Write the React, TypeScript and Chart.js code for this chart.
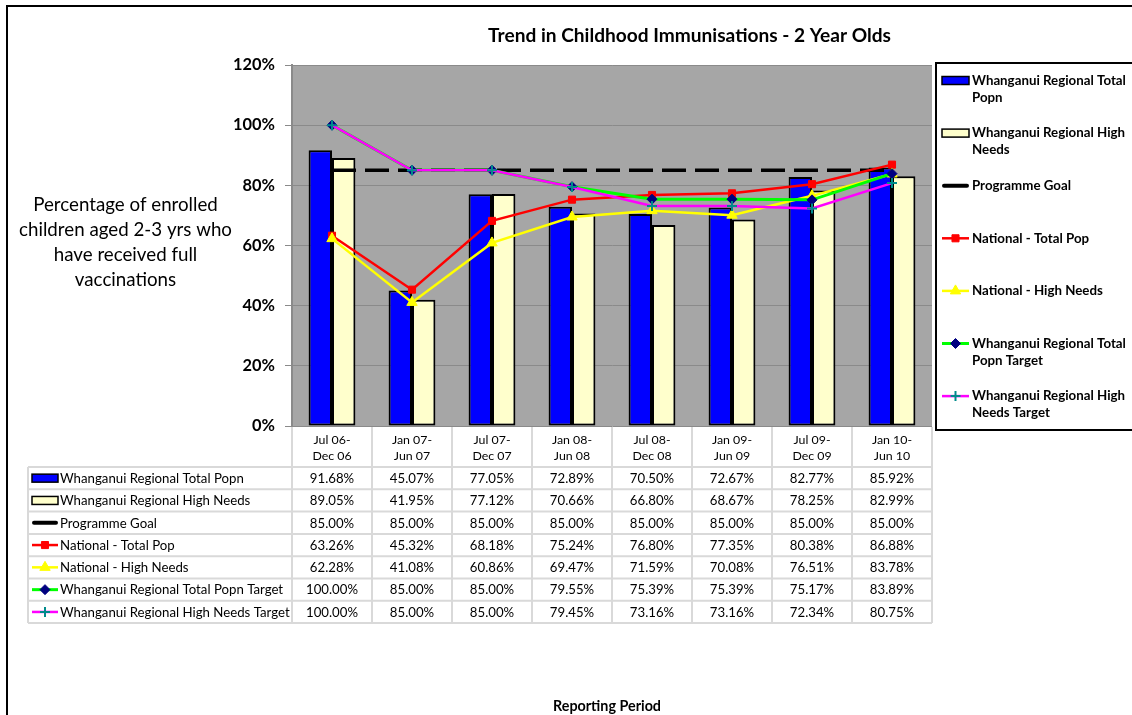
import React, { useEffect, useRef } from "react";
import { Chart, registerables } from "chart.js";
import { drawPoint } from "chart.js/helpers";

Chart.register(...registerables);

// ---------- data ----------
const categories: string[][] = [
  ["Jul 06-", "Dec 06"],
  ["Jan 07-", "Jun 07"],
  ["Jul 07-", "Dec 07"],
  ["Jan 08-", "Jun 08"],
  ["Jul 08-", "Dec 08"],
  ["Jan 09-", "Jun 09"],
  ["Jul 09-", "Dec 09"],
  ["Jan 10-", "Jun 10"],
];
const regionalTotalPopn = [91.68, 45.07, 77.05, 72.89, 70.5, 72.67, 82.77, 85.92];
const regionalHighNeeds = [89.05, 41.95, 77.12, 70.66, 66.8, 68.67, 78.25, 82.99];
const programmeGoal = [85, 85, 85, 85, 85, 85, 85, 85];
const nationalTotalPop = [63.26, 45.32, 68.18, 75.24, 76.8, 77.35, 80.38, 86.88];
const nationalHighNeeds = [62.28, 41.08, 60.86, 69.47, 71.59, 70.08, 76.51, 83.78];
const regionalTotalTarget = [100.0, 85.0, 85.0, 79.55, 75.39, 75.39, 75.17, 83.89];
const regionalHighTarget = [100.0, 85.0, 85.0, 79.45, 73.16, 73.16, 72.34, 80.75];

const seriesNames = [
  "Whanganui Regional Total Popn",
  "Whanganui Regional High Needs",
  "Programme Goal",
  "National - Total Pop",
  "National - High Needs",
  "Whanganui Regional Total Popn Target",
  "Whanganui Regional High Needs Target",
];
const yMin = 0;
const yMax = 120;
const yStep = 20;
const chartTitle = "Trend in Childhood Immunisations - 2 Year Olds";
const yTitleLines = ["Percentage of enrolled", "children aged 2-3 yrs who", "have received full", "vaccinations"];
const xTitle = "Reporting Period";

// ---------- fonts ----------
const FAMILY = "Lato, 'Open Sans', sans-serif";
function fit(text: string, weight: string, target: number): number {
  const c = document.createElement("canvas").getContext("2d")!;
  c.font = `${weight} 100px ${FAMILY}`;
  return (100 * target) / c.measureText(text).width;
}

function wrap(ctx: CanvasRenderingContext2D, text: string, maxW: number): string[] {
  const words = text.split(" ");
  const lines: string[] = [];
  let cur = "";
  for (const w of words) {
    const t = cur ? cur + " " + w : w;
    if (ctx.measureText(t).width > maxW && cur) {
      lines.push(cur);
      cur = w;
    } else cur = t;
  }
  if (cur) lines.push(cur);
  return lines;
}

function drawSwatch(ctx: CanvasRenderingContext2D, ds: any, x0: number, x1: number, y: number, barH: number) {
  ctx.save();
  if (ds.type !== "line") {
    ctx.fillStyle = ds.backgroundColor;
    ctx.fillRect(x0, y - barH / 2, x1 - x0, barH);
    ctx.strokeStyle = "#000";
    ctx.lineWidth = 1.5;
    ctx.strokeRect(x0, y - barH / 2, x1 - x0, barH);
  } else {
    ctx.strokeStyle = ds.borderColor;
    ctx.lineWidth = ds.pointRadius > 0 ? ds.borderWidth : 4;
    ctx.lineCap = ds.pointRadius > 0 ? "butt" : "round";
    ctx.beginPath();
    ctx.moveTo(x0 + (ds.pointRadius > 0 ? 0 : 2), y);
    ctx.lineTo(x1 - (ds.pointRadius > 0 ? 0 : 2), y);
    ctx.stroke();
    if (ds.pointRadius > 0) {
      ctx.fillStyle = ds.pointBackgroundColor;
      ctx.strokeStyle = ds.pointBorderColor;
      ctx.lineWidth = ds.pointBorderWidth;
      drawPoint(ctx, { pointStyle: ds.pointStyle, radius: ds.pointRadius, borderWidth: ds.pointBorderWidth, rotation: 0 } as any, (x0 + x1) / 2, y);
    }
  }
  ctx.restore();
}

export default function App() {
  const ref = useRef<HTMLCanvasElement>(null);

  useEffect(() => {
    const canvas = ref.current!;
    const sz = {
      title: fit(chartTitle, "bold", 403),
      tick: fit("120%", "bold", 42),
      yTitle: fit(yTitleLines[1], "normal", 213),
      legend: fit("Whanganui Regional Total", "bold", 154),
      rowLabel: fit(seriesNames[6], "normal", 230),
      value: fit("100.00%", "normal", 52),
      header: fit("Jul 06-", "normal", 37),
      xTitle: fit(xTitle, "bold", 108),
    };

    const bgPlugin = {
      id: "bg",
      beforeDraw(chart: any) {
        const { ctx, chartArea } = chart;
        ctx.save();
        ctx.fillStyle = "#fff";
        ctx.fillRect(0, 0, chart.width, chart.height);
        ctx.fillStyle = "#A6A6A6";
        ctx.fillRect(chartArea.left, chartArea.top, chartArea.right - chartArea.left, chartArea.bottom - chartArea.top);
        ctx.restore();
      },
      afterDraw(chart: any) {
        const { ctx, chartArea } = chart;
        const xs = chart.scales.x;
        const dsets = chart.data.datasets;
        ctx.save();
        // outer frame
        ctx.strokeStyle = "#000";
        ctx.lineWidth = 2;
        ctx.strokeRect(7, 6, 1140, 720);

        // title
        ctx.fillStyle = "#000";
        ctx.textAlign = "center";
        ctx.textBaseline = "middle";
        ctx.font = `bold ${sz.title}px ${FAMILY}`;
        ctx.fillText(chartTitle, 689.5, 36);

        // y title
        ctx.font = `normal ${sz.yTitle}px ${FAMILY}`;
        yTitleLines.forEach((l, i) => ctx.fillText(l, 125.5, 205 + i * 25));

        // x title
        ctx.font = `bold ${sz.xTitle}px ${FAMILY}`;
        ctx.fillText(xTitle, 607, 706);

        // ----- data table -----
        const colW = xs.getPixelForValue(1) - xs.getPixelForValue(0);
        const tableLeft = 28;
        const rowTop = 467;
        const rowH = 22.3;
        const nRows = dsets.length;
        ctx.strokeStyle = "#d9d9d9";
        ctx.lineWidth = 2;
        ctx.beginPath();
        for (let r = 0; r <= nRows; r++) {
          const y = rowTop + r * rowH;
          ctx.moveTo(tableLeft, y);
          ctx.lineTo(chartArea.right, y);
        }
        ctx.moveTo(tableLeft, rowTop);
        ctx.lineTo(tableLeft, rowTop + nRows * rowH);
        for (let c = 0; c <= categories.length; c++) {
          const x = chartArea.left + c * colW;
          ctx.moveTo(x, chartArea.bottom + 1);
          ctx.lineTo(x, rowTop + nRows * rowH);
        }
        ctx.stroke();

        ctx.fillStyle = "#000";
        ctx.textAlign = "center";
        ctx.font = `normal ${sz.header}px ${FAMILY}`;
        categories.forEach((lines, i) => {
          const x = xs.getPixelForValue(i);
          lines.forEach((l, j) => ctx.fillText(l, x, 440 + j * 16.5));
        });

        ctx.font = `normal ${sz.value}px ${FAMILY}`;
        dsets.forEach((ds: any, r: number) => {
          const y = rowTop + r * rowH + rowH / 2;
          ds.data.forEach((v: number, i: number) => {
            ctx.fillText(v.toFixed(2) + "%", xs.getPixelForValue(i), y + 0.5);
          });
        });

        ctx.textAlign = "left";
        ctx.font = `normal ${sz.rowLabel}px ${FAMILY}`;
        dsets.forEach((ds: any, r: number) => {
          const y = rowTop + r * rowH + rowH / 2;
          drawSwatch(ctx, ds, 32, 58, y, 8);
          ctx.fillStyle = "#000";
          ctx.fillText(ds.label, 60, y + 0.5);
        });

        // ----- legend -----
        ctx.strokeStyle = "#000";
        ctx.lineWidth = 2;
        ctx.strokeRect(936, 63, 220, 367);
        ctx.font = `bold ${sz.legend}px ${FAMILY}`;
        dsets.forEach((ds: any, i: number) => {
          const y0 = 80.5 + i * 52.6;
          drawSwatch(ctx, ds, 942, 969, y0, 8);
          ctx.fillStyle = "#000";
          ctx.textAlign = "left";
          const lines = wrap(ctx, ds.label, 158);
          lines.forEach((l, j) => ctx.fillText(l, 972, y0 + j * 17));
        });
        ctx.restore();
      },
    };

    const chart = new Chart(canvas, {
      type: "bar",
      data: {
        labels: categories,
        datasets: [
          {
            type: "bar",
            label: seriesNames[0],
            data: regionalTotalPopn,
            backgroundColor: "#0000FF",
            borderColor: "#000",
            borderWidth: 2,
            borderSkipped: false,
            barPercentage: 1,
            categoryPercentage: 0.585,
            order: 10,
          },
          {
            type: "bar",
            label: seriesNames[1],
            data: regionalHighNeeds,
            backgroundColor: "#FFFFCC",
            borderColor: "#000",
            borderWidth: 2,
            borderSkipped: false,
            barPercentage: 1,
            categoryPercentage: 0.585,
            order: 11,
          },
          {
            type: "line",
            label: seriesNames[2],
            data: programmeGoal,
            borderColor: "#000",
            borderWidth: 3.5,
            borderDash: [24, 9],
            pointRadius: 0,
            fill: false,
            order: 5,
          },
          {
            type: "line",
            label: seriesNames[3],
            data: nationalTotalPop,
            borderColor: "#FF0000",
            borderWidth: 2.5,
            pointStyle: "rect",
            pointRadius: 5,
            pointBackgroundColor: "#FF0000",
            pointBorderColor: "#FF0000",
            pointBorderWidth: 1,
            fill: false,
            order: 4,
          },
          {
            type: "line",
            label: seriesNames[4],
            data: nationalHighNeeds,
            borderColor: "#FFFF00",
            borderWidth: 2.5,
            pointStyle: "triangle",
            pointRadius: 6,
            pointBackgroundColor: "#FFFF00",
            pointBorderColor: "#FFFF00",
            pointBorderWidth: 1,
            fill: false,
            order: 3,
          },
          {
            type: "line",
            label: seriesNames[5],
            data: regionalTotalTarget,
            borderColor: "#00FF00",
            borderWidth: 3,
            pointStyle: "rectRot",
            pointRadius: 5,
            pointBackgroundColor: "#000080",
            pointBorderColor: "#000080",
            pointBorderWidth: 1,
            fill: false,
            order: 2,
          },
          {
            type: "line",
            label: seriesNames[6],
            data: regionalHighTarget,
            borderColor: "#FF00FF",
            borderWidth: 2.5,
            pointStyle: "cross",
            pointRadius: 5,
            pointBackgroundColor: "#008B8B",
            pointBorderColor: "#008B8B",
            pointBorderWidth: 2,
            fill: false,
            order: 1,
          },
        ] as any,
      },
      options: {
        responsive: false,
        animation: false,
        events: [],
        layout: { padding: { left: 232, top: 65, right: 200, bottom: 289 } },
        plugins: {
          legend: { display: false },
          tooltip: { enabled: false },
          title: { display: false },
        },
        scales: {
          x: { display: false, offset: true },
          y: {
            min: yMin,
            max: yMax,
            ticks: {
              stepSize: yStep,
              callback: (v: any) => v + "%",
              color: "#000",
              padding: 10,
              font: { family: FAMILY, weight: "bold", size: sz.tick },
            },
            grid: { color: "#8a8a8a", tickColor: "#8a8a8a", tickLength: 7, lineWidth: 1 },
            border: { color: "#8a8a8a", width: 2 },
            afterFit: (s: any) => {
              s.width = 60;
            },
          } as any,
        },
      },
      plugins: [bgPlugin],
    });
    return () => chart.destroy();
  }, []);

  return (
    <div style={{ position: "absolute", left: 0, top: 0, width: 1132, height: 715 }}>
      <canvas ref={ref} width={1132} height={715} style={{ width: 1132, height: 715, display: "block" }} />
    </div>
  );
}
